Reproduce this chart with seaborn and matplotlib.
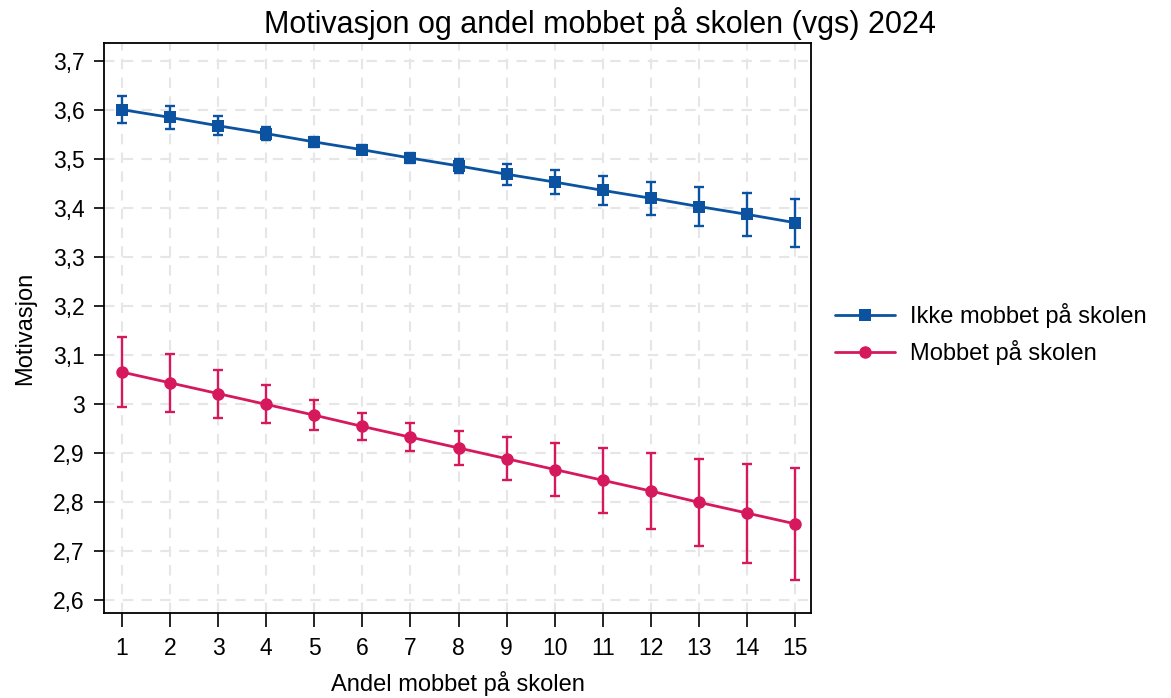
import numpy as np
import pandas as pd
import seaborn as sns
import matplotlib.pyplot as plt
from matplotlib.ticker import FuncFormatter

# Data
andel = list(range(1, 16))
ikke_mobbet = [3.601, 3.585, 3.568, 3.552, 3.535, 3.519, 3.502, 3.486,
               3.469, 3.453, 3.436, 3.420, 3.403, 3.387, 3.370]
ikke_mobbet_err = [0.028, 0.023, 0.019, 0.014, 0.011, 0.009, 0.010, 0.015,
                   0.021, 0.025, 0.030, 0.034, 0.039, 0.044, 0.049]
mobbet = [3.065, 3.043, 3.021, 2.999, 2.977, 2.954, 2.932, 2.910,
          2.888, 2.866, 2.844, 2.822, 2.799, 2.777, 2.755]
mobbet_err = [0.071, 0.059, 0.049, 0.039, 0.030, 0.027, 0.028, 0.035,
              0.044, 0.054, 0.066, 0.077, 0.089, 0.101, 0.114]
y_ticks = [2.6, 2.7, 2.8, 2.9, 3.0, 3.1, 3.2, 3.3, 3.4, 3.5, 3.6, 3.7]

blue = "#0b53a1"
pink = "#d6195d"

sns.set_theme(style="white")
plt.rcParams['font.family'] = ['Liberation Sans', 'DejaVu Sans']
plt.rcParams['text.color'] = 'black'
plt.rcParams['axes.labelcolor'] = 'black'

df = pd.DataFrame({
    'Andel': andel * 2,
    'Motivasjon': ikke_mobbet + mobbet,
    'err': ikke_mobbet_err + mobbet_err,
    'Gruppe': ['Ikke mobbet på skolen'] * 15 + ['Mobbet på skolen'] * 15,
})

fig = plt.figure(figsize=(11.71, 6.98), dpi=100)
ax = fig.add_axes([0.0888, 0.1218, 0.6038, 0.8166])

ax.grid(True, color="#e6e6e6", linestyle=(0, (5, 4)), linewidth=1.5)
ax.set_axisbelow(True)

for name, color, marker, msize in [('Ikke mobbet på skolen', blue, 's', 8.5),
                                   ('Mobbet på skolen', pink, 'o', 9)]:
    sub = df[df['Gruppe'] == name]
    ax.errorbar(sub['Andel'], sub['Motivasjon'], yerr=sub['err'], fmt='none',
                ecolor=color, elinewidth=1.7, capsize=3.8, capthick=1.7, zorder=2)
    sns.lineplot(data=sub, x='Andel', y='Motivasjon', ax=ax, color=color,
                 marker=marker, markersize=msize, markeredgewidth=0,
                 linewidth=2.0, label=name, zorder=3)

ax.set_xlim(0.626, 15.33)
ax.set_ylim(2.573, 3.737)
ax.set_xticks(andel)
ax.set_yticks(y_ticks)
ax.yaxis.set_major_formatter(FuncFormatter(lambda v, p: f"{v:g}".replace('.', ',')))

for s in ax.spines.values():
    s.set_visible(True)
    s.set_color("black")
    s.set_linewidth(1.3)
ax.tick_params(axis='x', direction='out', length=10, width=1.2, pad=7,
               labelsize=16.5, colors='black', bottom=True)
ax.tick_params(axis='y', direction='out', length=7, width=1.2, pad=7,
               labelsize=16.5, colors='black', left=True)

ax.set_xlabel("Andel mobbet på skolen", fontsize=17, labelpad=8)
ax.set_ylabel("Motivasjon", fontsize=17, labelpad=12)
fig.suptitle("Motivasjon og andel mobbet på skolen (vgs) 2024",
             fontsize=22, x=0.512, y=0.99)

handles, labels = ax.get_legend_handles_labels()
ax.get_legend().remove()
fig.legend(handles, labels, loc='center left', bbox_to_anchor=(0.695, 0.521),
           frameon=False, fontsize=17, handlelength=2.55, labelspacing=0.5,
           handletextpad=0.64)

plt.savefig("out.png", dpi=100)
